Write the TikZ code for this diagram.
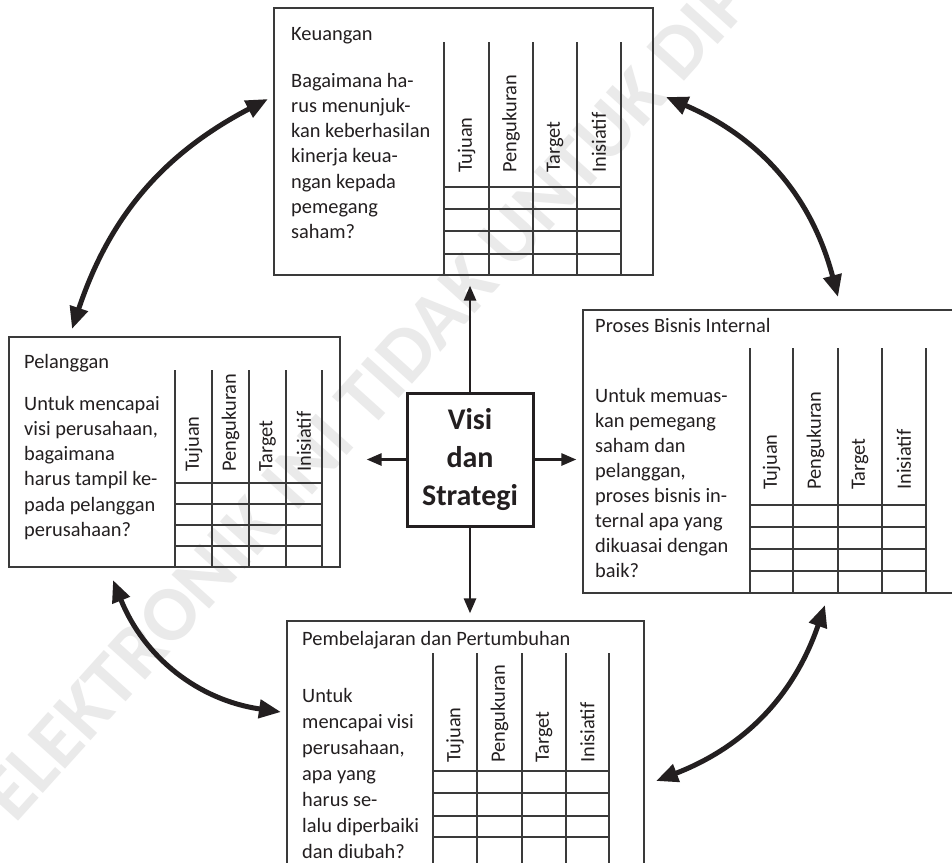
\documentclass[tikz,border=0pt]{standalone}
\usepackage{fontspec}
\setmainfont{Carlito}
\usetikzlibrary{arrows.meta}

\definecolor{ink}{HTML}{231F20}
\definecolor{rulec}{HTML}{3A3A3A}
\definecolor{wmark}{HTML}{EAEAEA}

% question text: first line sits on the given baseline
\newcommand{\qtext}[2]{\parbox[t]{230pt}{\raggedright\fontsize{20.4pt}{#1}\selectfont #2}}

\tikzset{
  panel/.style={draw=rulec, line width=1.3pt, inner sep=0pt},
  gridline/.style={draw=rulec, line width=1.1pt},
  heading/.style={anchor=base west, inner sep=0pt, text=ink,
    font=\fontsize{20.4pt}{24pt}\selectfont},
  colhead/.style={rotate=90, anchor=west, inner sep=0pt, text=ink,
    font=\fontsize{20.4pt}{24pt}\selectfont},
  question/.style={anchor=base west, inner sep=0pt, text=ink},
  core/.style={draw=ink, line width=3pt, minimum width=126pt, minimum height=133pt,
    align=center, inner sep=0pt, text=ink, font=\fontsize{30pt}{38pt}\selectfont\bfseries},
  spoke/.style={draw=ink, line width=2.8pt, -{Triangle[length=15pt,width=12pt]}},
  loop/.style={draw=ink, line width=5pt,
    {Triangle[length=22pt,width=18pt]}-{Triangle[length=22pt,width=18pt]}},
}

\begin{document}
\begin{tikzpicture}[x=1pt,y=-1pt]
\useasboundingbox (0,0) rectangle (952,862);
\clip (0,0) rectangle (952,862);
\fill[white] (0,0) rectangle (952,862);

% diagonal watermark
\node[rotate=48, anchor=base west, inner sep=0pt, text=wmark,
  font=\fontsize{78pt}{78pt}\selectfont\bfseries] (wm) at (15,825)
  {ELEKTRONIK INI TIDAK UNTUK DIPERJUALBELIKAN};

% ---------- the four perspective panels ----------
\node[panel, minimum width=379pt, minimum height=267pt] (keu) at (463.5,141.5) {};
\node[panel, minimum width=331pt, minimum height=230pt] (pel) at (174.5,452) {};
\node[panel, minimum width=372pt, minimum height=283pt] (pro) at (769,451.5) {};
\node[panel, minimum width=357pt, minimum height=259pt] (pem) at (465.5,750.5) {};

% ---------- centre ----------
\node[core] (vs) at (470,459.5) {Visi\\dan\\Strategi};

% ---------- Keuangan ----------
\node[heading] (keu-t) at (291,40) {Keuangan};
\node[question] (keu-q) at (291,87) {\qtext{25.3pt}{Bagaimana ha-\\rus menunjuk-\\kan keberhasilan\\kinerja keua-\\ngan kepada\\pemegang\\saham?}};
\foreach \x in {444,489,533,577,621} \draw[gridline] (\x,42) -- (\x,275);
\foreach \y in {187,209,231,254} \draw[gridline] (444,\y) -- (621,\y);
\foreach \c/\t [count=\i] in {466.5/Tujuan,511/Pengukuran,555/Target,599/Inisiatif}
  \node[colhead] (keu-h\i) at (\c,173) {\t};

% ---------- Pelanggan ----------
\node[heading] (pel-t) at (24,368) {Pelanggan};
\node[question] (pel-q) at (24,410) {\qtext{25.3pt}{Untuk mencapai\\visi perusahaan,\\bagaimana\\harus tampil ke-\\pada pelanggan\\perusahaan?}};
\foreach \x in {175,212,249,286,322} \draw[gridline] (\x,370) -- (\x,567);
\foreach \y in {483,504,525,546} \draw[gridline] (175,\y) -- (322,\y);
\foreach \c/\t [count=\i] in {193.5/Tujuan,230.5/Pengukuran,267.5/Target,304/Inisiatif}
  \node[colhead] (pel-h\i) at (\c,472) {\t};

% ---------- Proses Bisnis Internal ----------
\node[heading] (pro-t) at (595,332) {Proses Bisnis Internal};
\node[question] (pro-q) at (595,402) {\qtext{25pt}{Untuk memuas-\\kan pemegang\\saham dan\\pelanggan,\\proses bisnis in-\\ternal apa yang\\dikuasai dengan\\baik?}};
\foreach \x in {750,793,838,882,926} \draw[gridline] (\x,348) -- (\x,593);
\foreach \y in {505,527,549,571} \draw[gridline] (750,\y) -- (926,\y);
\foreach \c/\t [count=\i] in {771.5/Tujuan,815.5/Pengukuran,860/Target,904/Inisiatif}
  \node[colhead] (pro-h\i) at (\c,490) {\t};

% ---------- Pembelajaran dan Pertumbuhan ----------
\node[heading] (pem-t) at (302,645) {Pembelajaran dan Pertumbuhan};
\node[question] (pem-q) at (302,702) {\qtext{26pt}{Untuk\\mencapai visi\\perusahaan,\\apa yang\\harus se-\\lalu diperbaiki\\dan diubah?}};
\foreach \x in {433,477,522,566,609} \draw[gridline] (\x,653) -- (\x,880);
\foreach \y in {771,793,816,837} \draw[gridline] (433,\y) -- (609,\y);
\foreach \c/\t [count=\i] in {455/Tujuan,499.5/Pengukuran,544/Target,587.5/Inisiatif}
  \node[colhead] (pem-h\i) at (\c,763) {\t};

% ---------- spokes from the centre ----------
\draw[spoke, shorten >=10pt] (vs.north) -- (vs.north |- keu.south);
\draw[spoke, shorten >=26pt] (vs.west) -- (vs.west -| pel.east);
\draw[spoke, shorten >=6pt]  (vs.east) -- (vs.east -| pro.west);
\draw[spoke, shorten >=7pt]  (vs.south) -- (vs.south |- pem.north);

% ---------- curved links between neighbouring panels ----------
\coordinate (tl-a) at (268,99);
\coordinate (tl-b) at (72,329);
\coordinate (tr-a) at (666,97);
\coordinate (tr-b) at (838,297);
\coordinate (br-a) at (825,605);
\coordinate (br-b) at (656,781);
\coordinate (bl-a) at (113,580);
\coordinate (bl-b) at (281,712);

\draw[loop] (tl-b) to[bend left=22] (tl-a);
\draw[loop] (tr-a) to[bend left=26] (tr-b);
\draw[loop] (br-a) to[bend left=25] (br-b);
\draw[loop] (bl-a) to[bend right=30] (bl-b);
\end{tikzpicture}
\end{document}
